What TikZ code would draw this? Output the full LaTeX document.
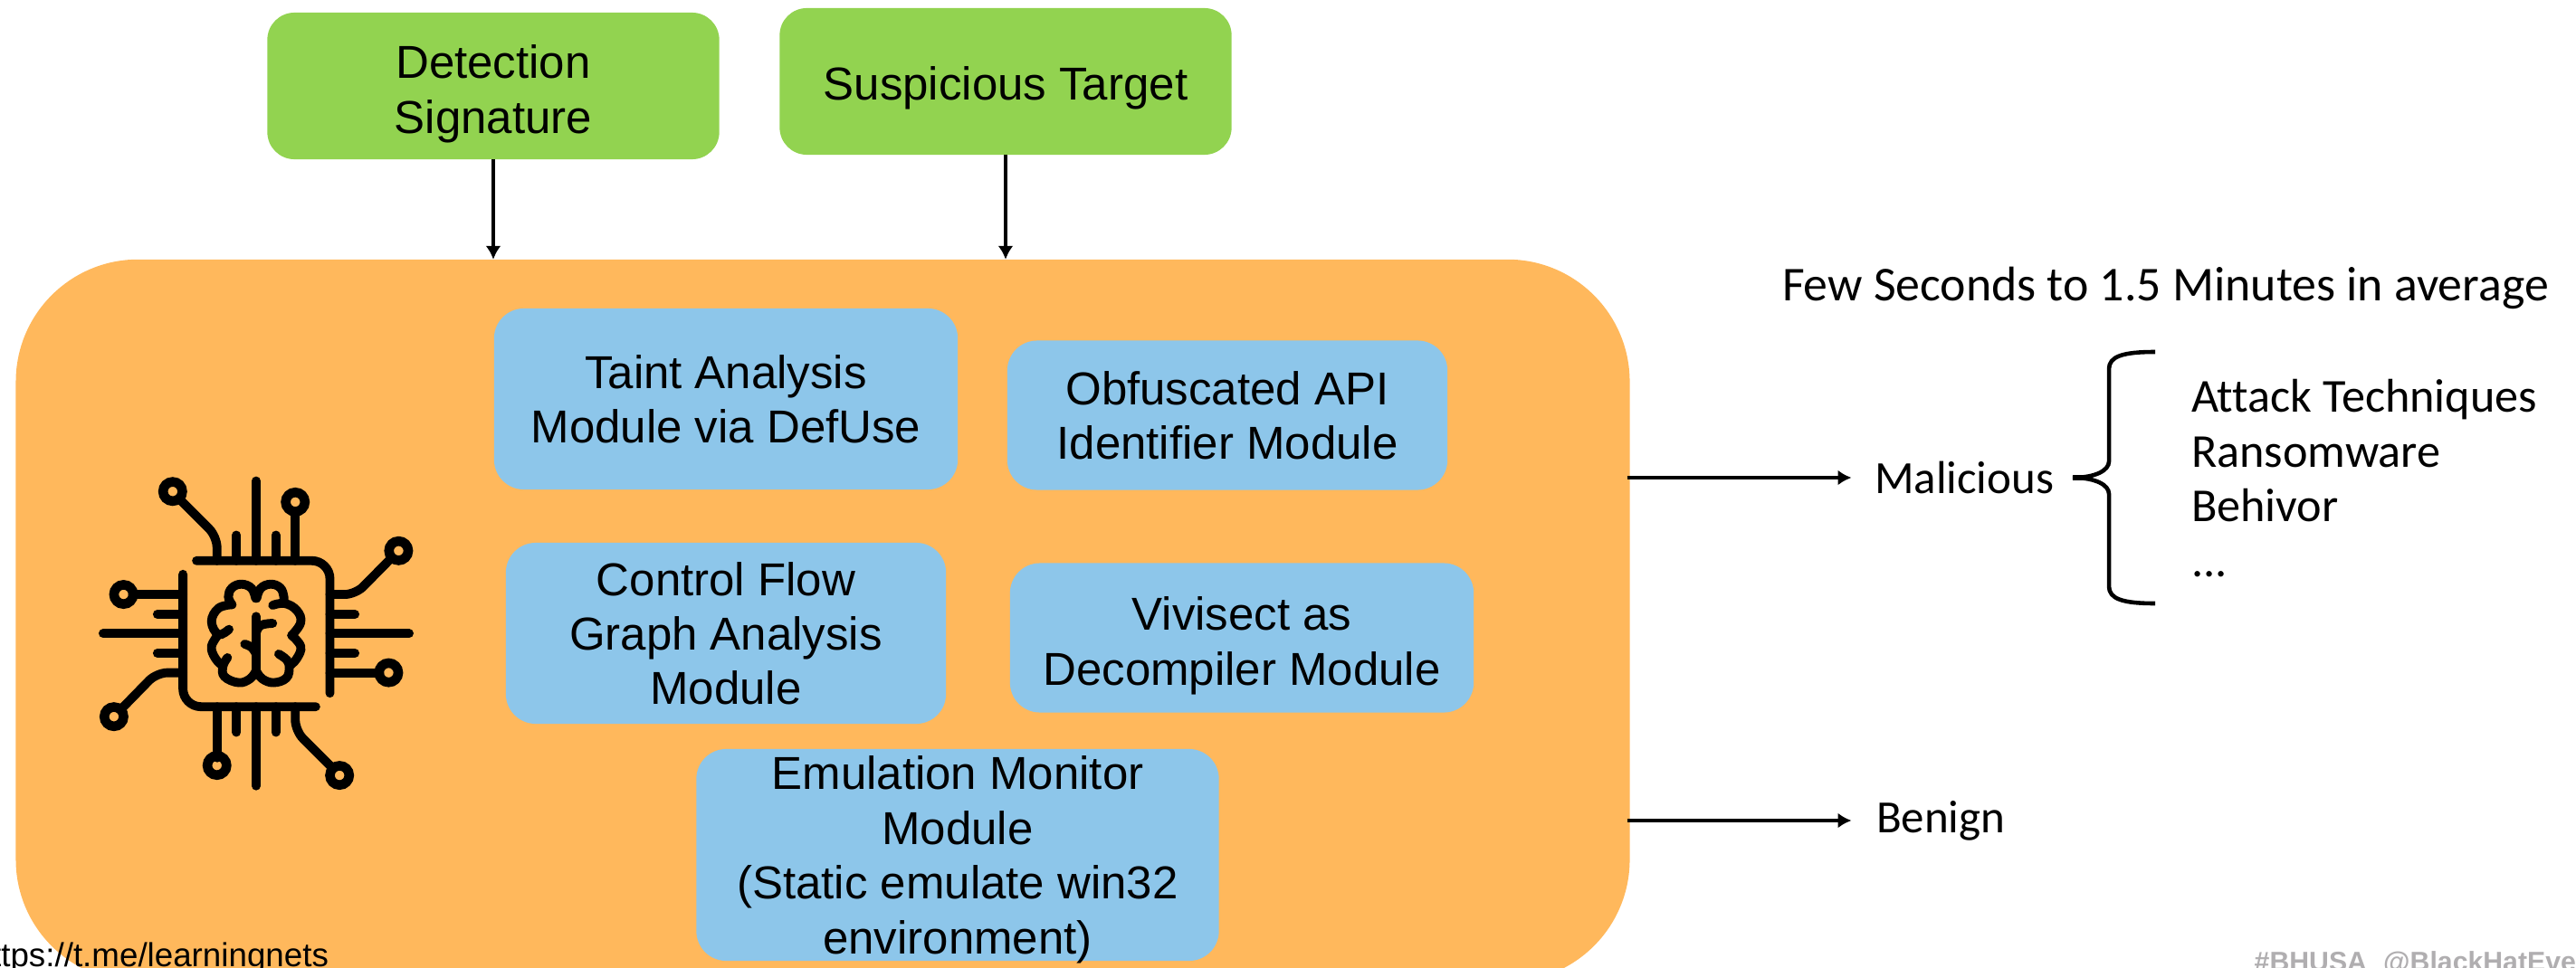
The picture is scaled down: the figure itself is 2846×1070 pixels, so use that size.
\documentclass[tikz,border=0pt]{standalone}
\usepackage{fontspec}
\setmainfont{Liberation Sans}
\newfontfamily\calibrifont[Ligatures=NoCommon]{Carlito}
\usetikzlibrary{arrows.meta}
\newcommand{\toprule}[1]{\rule{0pt}{#1}}

\begin{document}
\begin{tikzpicture}[x=0.01cm,y=-0.01cm,
	panel/.style={fill=cpanel,rounded corners=1.35cm,inner sep=0,outer sep=0},
	inputbox/.style={fill=cinput,rounded corners=0.3cm,inner sep=0,outer sep=0,align=center,text depth=-2pt,font=\fontsize{14.5}{17.2}\selectfont},
	modulebox/.style={fill=cmodule,rounded corners=0.33cm,inner sep=0,outer sep=0,align=center,text depth=-1pt,font=\fontsize{14.5}{17.2}\selectfont},
	result/.style={inner sep=0,outer sep=0,align=left,font=\calibrifont\fontsize{14.5}{17.3}\selectfont},
	flow/.style={-{Latex[length=1.5mm,width=1.7mm]},line width=1.2pt},
	chip/.style={line width=2.8pt,line cap=round,rounded corners=2mm},
	pin/.style={chip,rounded corners=1.2mm},
	brainline/.style={chip,rounded corners=0pt},
	pad/.style={line width=3pt}]
\definecolor{cpanel}{RGB}{255,184,92}         %orange
\definecolor{cinput}{RGB}{146,211,80}         %green
\definecolor{cmodule}{RGB}{141,198,234}       %lightblue
\definecolor{cmark}{RGB}{176,174,176}         %gray
\clip (0,0) rectangle (2846,1070);
% main panel
\node [panel,minimum width=17.82cm,minimum height=7.98cm] (panel) at (909,686) {};
% inputs
\node [inputbox,minimum width=4.99cm,minimum height=1.62cm] (detection) at (545,95) {\toprule{12.5pt}Detection\\Signature};
\node [inputbox,minimum width=4.99cm,minimum height=1.62cm] (target) at (1111,90) {\toprule{11.5pt}Suspicious Target};
% modules
\node [modulebox,minimum width=5.12cm,minimum height=2cm] (taint) at (802,441) {Taint Analysis\\Module via DefUse};
\node [modulebox,minimum width=4.86cm,minimum height=1.65cm] (obfuscated) at (1356,459) {Obfuscated API\\Identifier Module};
\node [modulebox,minimum width=4.86cm,minimum height=2cm,inner ysep=-1pt] (control) at (802,700) {Control Flow\\Graph Analysis\\Module};
\node [modulebox,minimum width=5.12cm,minimum height=1.65cm,text depth=-2pt] (vivisect) at (1372,705) {\toprule{12.5pt}Vivisect as\\Decompiler Module};
\node [modulebox,minimum width=5.77cm,minimum height=2.34cm,inner ysep=-2pt,text depth=-0.1pt] (emulation) at (1058,945) {Emulation Monitor\\Module\\(Static emulate win32\\environment)};
% outputs
\node [result,anchor=west] (malicious) at (2071,528) {Malicious};
\node [result,anchor=west] (benign) at (2073,907) {Benign};
\node [result,anchor=west,font=\calibrifont\fontsize{15.3}{18}\selectfont] (duration) at (1969,318) {Few Seconds to 1.5 Minutes in average};
\node [result,anchor=north west,font=\calibrifont\fontsize{14.85}{17.3}\selectfont] (behavior) at (2421,419) {Attack Techniques\\Ransomware\\Behivor\\...};
% connectors
\draw [flow] (detection) -- (detection |- panel.north);
\draw [flow] (target) -- (target |- panel.north);
\draw [flow] (panel.east |- malicious) ++(-3,0) -- ++(248,0);
\draw [flow] (panel.east |- benign) ++(-3,0) -- ++(248,0);
% brace
\coordinate (bracetip) at (2290,528);
\draw [line width=1.3pt] (2381,389) .. controls (2345,389) and (2330,394) .. (2330,408) -- (2330,510) .. controls (2330,520) and (2315,528) .. (bracetip) .. controls (2315,528) and (2330,536) .. (2330,546) -- (2330,648) .. controls (2330,662) and (2345,667) .. (2381,667);
\draw [line width=1.8pt] (bracetip) -- ++(20,0);
% chip icon
\begin{scope}[shift={(60,480)},x=0.00333cm,y=-0.00333cm]
\draw [chip] (472,420) -- (915,420) -- (915,860);
\draw [chip] (868,905) -- (427,905) -- (427,465);
\draw [pin] (540,420) -- (540,340) -- (414,214);
\draw [chip] (605,420) -- (605,335);
\draw [chip] (670,420) -- (670,155);
\draw [chip] (735,420) -- (735,335);
\draw [chip] (800,420) -- (800,255);
\draw [pin] (915,532) -- (1000,532) -- (1120,410);
\draw [chip] (915,598) -- (998,598);
\draw [chip] (915,662) -- (1178,662);
\draw [chip] (915,727) -- (998,727);
\draw [chip] (915,792) -- (1080,792);
\draw [chip] (540,905) -- (540,1075);
\draw [chip] (605,905) -- (605,990);
\draw [chip] (670,905) -- (670,1168);
\draw [chip] (735,905) -- (735,990);
\draw [pin] (800,905) -- (800,985) -- (925,1110);
\draw [chip] (427,532) -- (260,532);
\draw [chip] (427,598) -- (342,598);
\draw [chip] (427,662) -- (162,662);
\draw [chip] (427,727) -- (342,727);
\draw [pin] (427,792) -- (340,792) -- (220,915);
\draw [pad] (393,190) circle[radius=32];
\draw [pad] (800,225) circle[radius=32];
\draw [pad] (1143,387) circle[radius=32];
\draw [pad] (1110,792) circle[radius=32];
\draw [pad] (947,1133) circle[radius=32];
\draw [pad] (540,1100) circle[radius=32];
\draw [pad] (198,938) circle[radius=32];
\draw [pad] (230,532) circle[radius=32];
% brain
\draw [brainline] plot[smooth,tension=0.7] coordinates {(668,545) (655,512) (622,498) (590,510) (578,540) (590,566)};
\draw [brainline] plot[smooth,tension=0.7] coordinates {(590,566) (545,578) (522,622) (545,665) (580,648)};
\draw [brainline] plot[smooth,tension=0.7] coordinates {(545,665) (522,705) (535,745) (560,770)};
\draw [brainline] plot[smooth,tension=0.7] coordinates {(575,742) (560,770) (565,805) (612,825) (650,812) (670,785)};
\draw [brainline] plot[smooth,tension=0.7] coordinates {(672,545) (685,512) (718,498) (750,510) (762,540) (760,562)};
\draw [brainline] plot[smooth,tension=0.7] coordinates {(725,568) (765,562) (805,585) (818,625) (788,668)};
\draw [brainline] plot[smooth,tension=0.7] coordinates {(788,668) (818,705) (805,745) (780,770)};
\draw [brainline] plot[smooth,tension=0.7] coordinates {(745,730) (772,750) (780,775) (770,810) (728,825) (690,812) (670,785)};
\draw [chip] (670,605) -- (670,790);
\draw [brainline] plot[smooth,tension=0.7] coordinates {(670,660) (685,635) (725,628)};
\draw [brainline] plot[smooth,tension=0.7] coordinates {(670,730) (655,708) (632,697)};
\end{scope}
% footer
\node [anchor=base west,inner sep=0,font=\fontsize{10.45}{13}\selectfont] (channel) at (-30,1068) {https://t.me/learningnets};
\node [anchor=base west,inner sep=0,text=cmark,font=\bfseries\fontsize{8.6}{10}\selectfont] (mark) at (2490,1073) {\#BHUSA\hspace{.6em}@BlackHatEvents};
\end{tikzpicture}
\end{document}
